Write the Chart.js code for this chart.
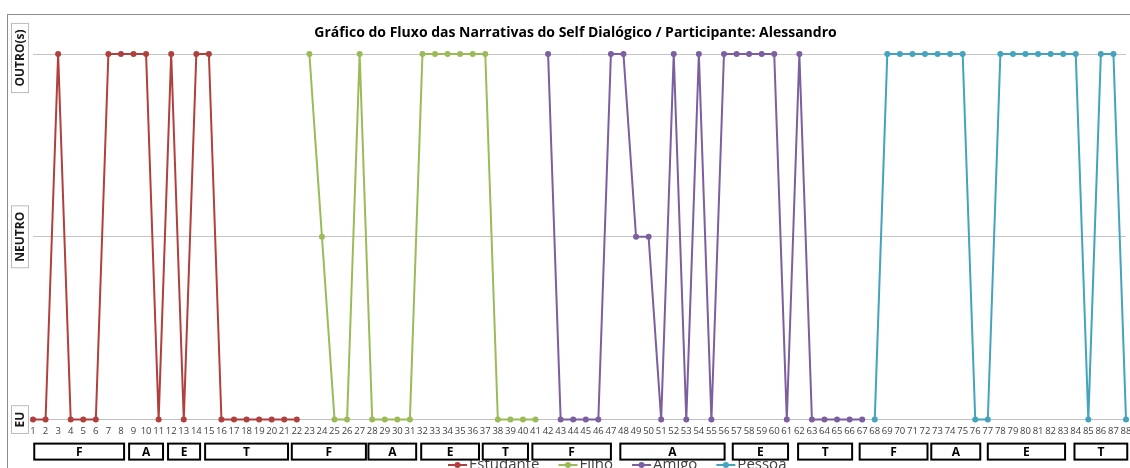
<!DOCTYPE html>
<html>
<head>
<meta charset="utf-8">
<script src="https://cdn.jsdelivr.net/npm/chart.js@4/dist/chart.umd.min.js"></script>
<style>
  body { margin: 0; background: #fff; }
  canvas { display: block; }
</style>
</head>
<body>
<canvas id="fluxo" width="1130" height="468"></canvas>
<script>
// itens 1..88 no eixo horizontal
var categories = [];
for (var i = 1; i <= 88; i++) categories.push(String(i));

// 0 = EU, 1 = NEUTRO, 2 = OUTRO(s)
var levelLabels = ['EU', 'NEUTRO', 'OUTRO(s)'];

var estudanteStart = 1;
var estudante = [0, 0, 2, 0, 0, 0, 2, 2, 2, 2, 0, 2, 0, 2, 2, 0, 0, 0, 0, 0, 0, 0];
var filhoStart = 23;
var filho = [2, 1, 0, 0, 2, 0, 0, 0, 0, 2, 2, 2, 2, 2, 2, 0, 0, 0, 0];
var amigoStart = 42;
var amigo = [2, 0, 0, 0, 0, 2, 2, 1, 1, 0, 2, 0, 2, 0, 2, 2, 2, 2, 2, 0, 2, 0, 0, 0, 0, 0];
var pessoaStart = 68;
var pessoa = [0, 2, 2, 2, 2, 2, 2, 2, 0, 0, 2, 2, 2, 2, 2, 2, 2, 0, 2, 2, 0];

// blocos F / A / E / T abaixo do eixo (em unidades de item)
var blockLabels = ['F', 'A', 'E', 'T', 'F', 'A', 'E', 'T', 'F', 'A', 'E', 'T', 'F', 'A', 'E', 'T'];
var blockFrom = [1.1, 8.65, 11.75, 14.7, 21.6, 27.7, 31.9, 36.8, 40.75, 47.75, 56.7, 61.9, 66.8, 72.5, 77.0, 83.9];
var blockTo = [8.25, 11.35, 14.3, 21.3, 27.5, 31.5, 36.5, 40.4, 47.0, 56.05, 61.1, 66.2, 72.2, 76.4, 83.15, 88.1];

var chartTitle = 'Gráfico do Fluxo das Narrativas do Self Dialógico / Participante: Alessandro';

function fill(start, values) {
    var out = categories.map(function () { return null; });
    values.forEach(function (v, k) { out[start - 1 + k] = v; });
    return out;
}

function serie(label, color, start, values) {
    return {
        label: label,
        data: fill(start, values),
        borderColor: color,
        backgroundColor: color,
        pointBackgroundColor: color,
        pointBorderColor: color,
        borderWidth: 2,
        pointRadius: 3,
        pointBorderWidth: 0,
        spanGaps: false,
        clip: false,
        tension: 0
    };
}

var decor = {
    id: 'decor',
    beforeDraw: function (chart) {
        var ctx = chart.ctx;
        ctx.save();
        ctx.strokeStyle = '#8c8c8c';
        ctx.lineWidth = 1;
        ctx.strokeRect(7.5, 14.5, 1200, 600);
        ctx.restore();
    },
    afterDraw: function (chart) {
        var ctx = chart.ctx;
        var area = chart.chartArea;
        var x = chart.scales.x, y = chart.scales.y;
        ctx.save();

        // titulo
        ctx.fillStyle = '#000';
        ctx.font = 'bold 14px "Open Sans"';
        ctx.textAlign = 'center';
        ctx.textBaseline = 'middle';
        ctx.fillText(chartTitle, (area.left + area.right) / 2 - 4, 33);

        // rotulos do eixo vertical, em caixas
        ctx.font = 'bold 12px "Open Sans"';
        levelLabels.forEach(function (lab, v) {
            var cy = y.getPixelForValue(v);
            var w = ctx.measureText(lab).width + 12;
            ctx.save();
            ctx.translate(20, cy + (v === 2 ? 4 : 0));
            ctx.rotate(-Math.PI / 2);
            ctx.fillStyle = '#fff';
            ctx.fillRect(-w / 2, -8.5, w, 17);
            ctx.strokeStyle = '#bdbdbd';
            ctx.strokeRect(-w / 2, -8.5, w, 17);
            ctx.fillStyle = '#1a1a1a';
            ctx.fillText(lab, 0, 1);
            ctx.restore();
        });

        // legenda (cortada na base, como no original)
        ctx.font = '15px "Open Sans"';
        ctx.textAlign = 'left';
        ctx.textBaseline = 'alphabetic';
        var lx = 448;
        chart.data.datasets.forEach(function (ds) {
            ctx.strokeStyle = ds.borderColor;
            ctx.lineWidth = 2;
            ctx.beginPath();
            ctx.moveTo(lx, 465);
            ctx.lineTo(lx + 19, 465);
            ctx.stroke();
            ctx.fillStyle = ds.borderColor;
            ctx.beginPath();
            ctx.arc(lx + 9.5, 465, 3, 0, Math.PI * 2);
            ctx.fill();
            ctx.fillStyle = '#404040';
            ctx.fillText(ds.label, lx + 21, 469);
            lx += 21 + ctx.measureText(ds.label).width + 19;
        });

        // blocos F/A/E/T
        ctx.font = 'bold 12px "Open Sans"';
        ctx.textAlign = 'center';
        ctx.textBaseline = 'middle';
        blockLabels.forEach(function (lab, k) {
            var x0 = x.getPixelForValue(blockFrom[k] - 1);
            var x1 = x.getPixelForValue(blockTo[k] - 1);
            var top = area.bottom + 24;
            ctx.fillStyle = '#fff';
            ctx.fillRect(x0, top, x1 - x0, 16);
            ctx.strokeStyle = '#000';
            ctx.lineWidth = 2;
            ctx.strokeRect(x0, top, x1 - x0, 16);
            ctx.fillStyle = '#000';
            ctx.fillText(lab, (x0 + x1) / 2, top + 8.5);
        });
        ctx.restore();
    }
};

var ctx = document.getElementById('fluxo');
var myChart = new Chart(ctx, {
    type: 'line',
    data: {
        labels: categories,
        datasets: [
            serie('Estudante', '#b0403d', estudanteStart, estudante),
            serie('Filho', '#9bbb59', filhoStart, filho),
            serie('Amigo', '#7b5f9f', amigoStart, amigo),
            serie('Pessoa', '#44a3bd', pessoaStart, pessoa)
        ]
    },
    options: {
        responsive: false,
        devicePixelRatio: 1,
        animation: false,
        layout: { padding: { left: 33, right: 3, top: 54, bottom: 25 } },
        plugins: {
            legend: { display: false },
            tooltip: { enabled: false },
            title: { display: false }
        },
        scales: {
            x: {
                afterFit: function (scale) {
                    scale.paddingRight = 0;
                    scale.paddingLeft = 0;
                },
                grid: { display: false, drawTicks: false },
                border: { display: true, color: '#bfbfbf' },
                ticks: {
                    autoSkip: false,
                    maxRotation: 0,
                    padding: 6,
                    color: '#404040',
                    font: { family: 'Open Sans', size: 9.5 }
                }
            },
            y: {
                min: 0,
                max: 2,
                grid: { color: '#c4c4c4', drawTicks: false },
                border: { display: false },
                ticks: { display: false, stepSize: 1 }
            }
        }
    },
    plugins: [decor]
});
</script>
</body>
</html>
